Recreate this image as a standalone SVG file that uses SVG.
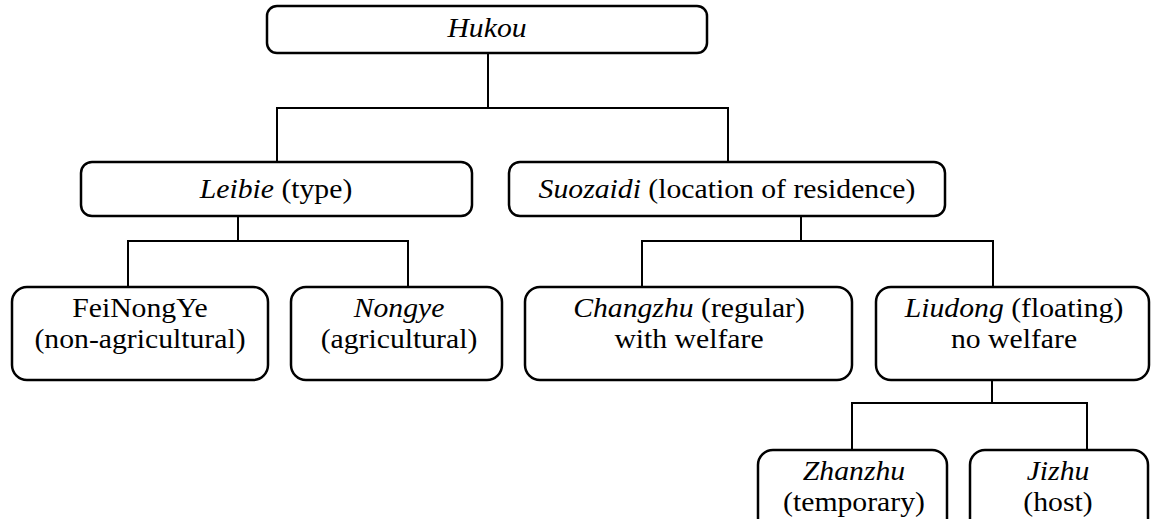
<svg xmlns="http://www.w3.org/2000/svg" width="1151" height="519" viewBox="0 0 1151 519">
<style>
.box{fill:#fff;stroke:#000;stroke-width:2.5}
.con{fill:none;stroke:#000;stroke-width:2}
.t{font-family:"Liberation Serif","Times New Roman",Times,Tinos,"Noto Serif","DejaVu Serif",FreeSerif,serif;font-size:27px;fill:#000;text-anchor:middle}
.i{font-style:italic}
</style>
<rect width="1151" height="519" fill="#fff"/>
<g id="connectors">
<path class="con" d="M488 53V108M277 162V108H728V162"/>
<path class="con" d="M238 216V241M128 287V241H408V287"/>
<path class="con" d="M801 216V241M642 287V241H993V287"/>
<path class="con" d="M992 380V403M852 450V403H1087V450"/>
</g>
<g id="hukou">
<rect class="box" x="267" y="6" width="440" height="47" rx="10"/>
<text class="t" transform="translate(487,37) scale(1.1,1)"><tspan class="i">Hukou</tspan></text>
</g>
<g id="leibie">
<rect class="box" x="81" y="162" width="391" height="54" rx="11"/>
<text class="t" transform="translate(276,198) scale(1.1,1)"><tspan class="i">Leibie</tspan> (type)</text>
</g>
<g id="suozaidi">
<rect class="box" x="509" y="162" width="436" height="54" rx="11"/>
<text class="t" transform="translate(727,198) scale(1.1,1)"><tspan class="i">Suozaidi</tspan> (location of residence)</text>
</g>
<g id="feinongye">
<rect class="box" x="12" y="287" width="256" height="93" rx="15"/>
<text class="t" transform="translate(140,317) scale(1.1,1)">FeiNongYe</text>
<text class="t" transform="translate(140,348) scale(1.1,1)">(non-agricultural)</text>
</g>
<g id="nongye">
<rect class="box" x="291" y="287" width="211" height="93" rx="15"/>
<text class="t" transform="translate(399,317) scale(1.1,1)"><tspan class="i">Nongye</tspan></text>
<text class="t" transform="translate(399,348) scale(1.1,1)">(agricultural)</text>
</g>
<g id="changzhu">
<rect class="box" x="525" y="287" width="327" height="93" rx="15"/>
<text class="t" transform="translate(689,317) scale(1.1,1)"><tspan class="i">Changzhu</tspan> (regular)</text>
<text class="t" transform="translate(689,348) scale(1.1,1)">with welfare</text>
</g>
<g id="liudong">
<rect class="box" x="876" y="287" width="273" height="93" rx="15"/>
<text class="t" transform="translate(1014,317) scale(1.1,1)"><tspan class="i">Liudong</tspan> (floating)</text>
<text class="t" transform="translate(1014,348) scale(1.1,1)">no welfare</text>
</g>
<g id="zhanzhu">
<rect class="box" x="758" y="450" width="189" height="90" rx="15"/>
<text class="t" transform="translate(854,480) scale(1.1,1)"><tspan class="i">Zhanzhu</tspan></text>
<text class="t" transform="translate(854,511) scale(1.1,1)">(temporary)</text>
</g>
<g id="jizhu">
<rect class="box" x="970" y="450" width="178" height="90" rx="15"/>
<text class="t" transform="translate(1058,480) scale(1.1,1)"><tspan class="i">Jizhu</tspan></text>
<text class="t" transform="translate(1058,511) scale(1.1,1)">(host)</text>
</g>
</svg>
